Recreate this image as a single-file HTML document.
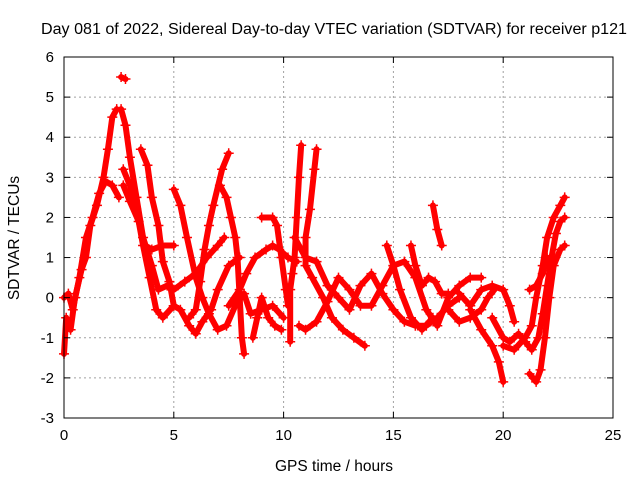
<!DOCTYPE html>
<html><head><meta charset="utf-8"><style>
body{margin:0;background:#fff;}
svg{display:block;font-family:"Liberation Sans",sans-serif;}
</style></head><body>
<svg id="chart" width="640" height="480">
<text x="334" y="34" font-size="15.5" textLength="586" lengthAdjust="spacingAndGlyphs" text-anchor="middle" fill="#000">Day 081 of 2022, Sidereal Day-to-day VTEC variation (SDTVAR) for receiver p121</text>
<g id="grid"></g>
<g id="series"></g>
<rect x="64" y="57" width="549" height="361" fill="none" stroke="#000" stroke-width="1"/>
<g id="axes"></g>
<text x="334" y="471" font-size="15.5" text-anchor="middle">GPS time / hours</text>
<text transform="translate(19,238) rotate(-90)" font-size="15.5" text-anchor="middle">SDTVAR / TECUs</text>
</svg>
<script>
const xTicks=[0,5,10,15,20,25];
const yTicks=[-3,-2,-1,0,1,2,3,4,5,6];
const trackA=[[0,-1.4],[0.1,-0.5],[0.3,-0.8],[0.5,0],[0.8,0.7],[1.0,1.0],[1.2,1.8],[1.5,2.3],[1.8,3.0],[2.0,3.7],[2.2,4.5],[2.4,4.7]];
const trackA2=[[0,0],[0.2,0.1],[0.4,-0.3],[0.7,0.5],[1.0,1.5],[1.3,2.0],[1.6,2.6],[1.9,2.9],[2.2,2.8],[2.5,2.5]];
const trackPeak=[[2.6,5.5],[2.8,5.45]];
const trackB=[[2.6,4.7],[2.8,4.3],[3.0,3.5],[3.3,2.5],[3.6,1.5],[4.0,0.8],[4.3,0.2],[4.7,0.3],[5.0,0.2],[5.5,0.4],[6.0,0.6],[6.5,1.0],[7.0,1.3],[7.3,1.5]];
const trackC=[[2.7,3.2],[3.0,2.8],[3.3,2.2],[3.6,1.3],[3.9,0.5],[4.2,-0.3],[4.5,-0.5],[5.0,-0.2],[5.3,-0.3],[5.7,-0.7],[6.0,-0.9],[6.3,-0.6],[6.7,-0.3],[7.0,0.2],[7.5,0.8],[8.0,1.0]];
const trackD=[[2.7,2.8],[3.0,2.4],[3.4,1.9],[3.7,1.3],[4.0,1.2],[4.5,1.3],[5.0,1.3]];
const trackE=[[3.5,3.7],[3.8,3.3],[4.0,2.5],[4.3,1.8],[4.5,0.9],[4.8,0.4],[5.0,-0.2]];
const trackF=[[5.0,2.7],[5.3,2.3],[5.6,1.5],[6.0,0.5],[6.3,0],[6.6,-0.4],[7.0,-0.8],[7.4,-0.7],[7.8,-0.2],[8.2,0.1],[8.5,-0.4],[9.0,-0.3],[9.5,-0.2],[10.0,-0.5]];
const trackG=[[7.5,3.6],[7.2,3.2],[6.8,2.3],[6.6,1.8],[6.4,1.2],[6.2,0.4],[6.0,-0.3],[5.7,-0.5]];
const trackH=[[7.1,2.8],[7.4,2.5],[7.6,2.0],[7.8,1.5],[7.9,1.0],[8.0,0],[8.1,-1.0],[8.2,-1.4]];
const trackI=[[7.5,-0.2],[8.0,0.2],[8.3,0.6],[8.7,1.0],[9.2,1.2],[9.5,1.3],[9.8,1.2],[10.2,1.0],[10.6,0.9]];
const trackK=[[9.0,2.0],[9.5,2.0],[9.7,1.8],[9.9,1.0],[10.1,0.2],[10.2,-0.2]];
const trackL=[[8.6,-1.0],[8.8,-0.5],[9.0,0.0],[9.3,-0.5],[9.6,-0.7],[9.9,-0.8]];
const trackM=[[10.8,3.8],[10.7,3.0],[10.6,2.0],[10.5,1.0],[10.4,0.6],[10.3,0.2],[10.3,-1.1]];
const trackN=[[11.5,3.7],[11.4,3.2],[11.2,2.2],[11.0,1.5],[11.0,0.8],[11.3,0.5],[11.8,0.0],[12.2,-0.5],[12.7,-0.8],[13.2,-1.0],[13.7,-1.2]];
const trackO=[[10.5,1.5],[11.0,1.0],[11.5,0.9],[12.0,0.3],[12.5,0],[13.0,-0.3],[13.5,0.3],[14.0,0.6],[14.5,0.1],[15.0,-0.3],[15.5,-0.6],[16.0,-0.7],[16.5,-0.7],[17.0,-0.5],[17.5,-0.2],[18.0,0]];
const trackP=[[10.7,-0.7],[11.0,-0.8],[11.5,-0.6],[12.0,-0.1],[12.5,0.5],[13.0,0.2],[13.5,-0.2],[14.0,-0.2],[14.5,0.3],[15.0,0.8],[15.5,0.9],[16.0,0.5],[16.5,-0.3],[17.0,-0.7],[17.5,0.0],[18.0,0.3],[18.5,0.5],[19.0,0.5]];
const trackQ=[[14.7,1.3],[15.0,0.8],[15.3,0.2],[15.8,-0.5],[16.3,-0.8],[16.8,-0.5]];
const trackR=[[15.8,1.3],[16.0,0.8],[16.3,0.3],[16.6,0.5],[16.9,0.4],[17.2,0.1],[17.5,0.1]];
const trackS=[[16.8,2.3],[17.0,1.7],[17.2,1.3]];
const trackT=[[17.5,-0.3],[18.0,-0.6],[18.5,-0.5],[19.0,-0.3],[19.3,0],[19.6,0.2]];
const trackU=[[18.5,-0.3],[19.0,-0.8],[19.5,-1.2],[19.8,-1.6],[20.0,-2.1]];
const trackV=[[18.0,0.1],[18.5,-0.2],[19.0,0.2],[19.5,0.3],[20.0,0.2],[20.3,-0.2],[20.5,-0.6]];
const trackW=[[19.5,-0.5],[20.0,-1.0],[20.3,-1.1],[20.7,-0.9],[21.0,-1.1],[21.3,-1.3],[21.6,-1.0],[21.8,-0.4],[22.0,0.3],[22.2,1.0],[22.4,1.6],[22.6,1.9],[22.8,2.0]];
const trackX=[[20.0,-1.2],[20.5,-1.3],[21.0,-1.0],[21.3,-0.7],[21.5,0],[21.8,0.8],[22.0,1.5],[22.3,2.0],[22.6,2.3],[22.8,2.5]];
const trackY=[[21.2,-1.9],[21.5,-2.1],[21.7,-1.8],[21.9,-1.0],[22.1,0],[22.3,0.8],[22.6,1.2],[22.8,1.3]];
const trackZ=[[21.2,0.2],[21.5,0.3],[21.8,0.6],[22.0,1.0]];
const tracks=[trackA,trackA2,trackPeak,trackB,trackC,trackD,trackE,trackF,trackG,trackH,trackI,trackK,trackL,trackM,trackN,trackO,trackP,trackQ,trackR,trackS,trackT,trackU,trackV,trackW,trackX,trackY,trackZ];

const X0=64,X1=613,Y0=418,Y1=57;
function xs(v){return X0+(v-0)/(25-0)*(X1-X0);}
function ys(v){return Y0-(v+3)/(6+3)*(Y0-Y1);}
const NS="http://www.w3.org/2000/svg";
const grid=document.getElementById('grid'),axes=document.getElementById('axes'),ser=document.getElementById('series');
function mk(tag,attrs,parent){const e=document.createElementNS(NS,tag);for(const k in attrs)e.setAttribute(k,attrs[k]);parent.appendChild(e);return e;}
xTicks.forEach(t=>{const x=xs(t);
 if(t>0&&t<25){const g=mk('line',{x1:x,x2:x,y1:Y0,y2:Y1,stroke:'#a0a0a0','stroke-dasharray':'2,3'},grid);
 
 }
 mk('line',{x1:x,x2:x,y1:Y0,y2:Y0-6,stroke:'#000'},axes);
 mk('line',{x1:x,x2:x,y1:Y1,y2:Y1+6,stroke:'#000'},axes);
 const l=mk('text',{x:x,y:Y0+22,'font-size':15,'text-anchor':'middle'},axes);l.textContent=t;
 
 });
yTicks.forEach(t=>{const y=ys(t);
 if(t>-3&&t<6){const g=mk('line',{x1:X0,x2:X1,y1:y,y2:y,stroke:'#a0a0a0','stroke-dasharray':'2,3'},grid);
 
 }
 mk('line',{x1:X0,x2:X0+6,y1:y,y2:y,stroke:'#000'},axes);
 mk('line',{x1:X1,x2:X1-6,y1:y,y2:y,stroke:'#000'},axes);
 const l=mk('text',{x:X0-10,y:y+5,'font-size':15,'text-anchor':'end'},axes);l.textContent=t;
 
 });
tracks.forEach(tr=>{
 const pl=mk('polyline',{points:tr.map(p=>xs(p[0])+','+ys(p[1])).join(' '),fill:'none',stroke:'#f00','stroke-width':6,'stroke-linejoin':'round','stroke-linecap':'round'},ser);
 
 
 tr.forEach(p=>{const x=xs(p[0]),y=ys(p[1]);
  const m=mk('path',{d:`M${x-5},${y}H${x+5}M${x},${y-5}V${y+5}`,stroke:'#f00','stroke-width':1.5},ser);
  
  });
});
</script>
</body></html>
